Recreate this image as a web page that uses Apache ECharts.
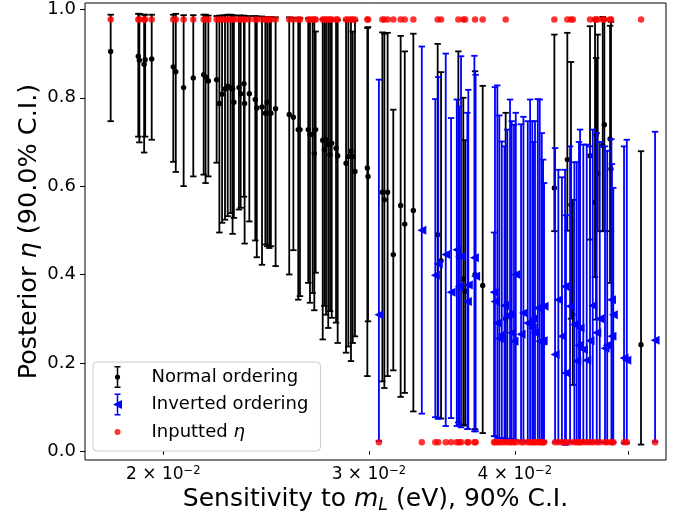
<!DOCTYPE html>
<html><head><meta charset="utf-8">
<script src="https://cdn.jsdelivr.net/npm/echarts@6/dist/echarts.min.js"></script>
<style>html,body{margin:0;padding:0;background:#fff}#c{width:685px;height:515px}</style>
</head><body><div id="c"></div>
<script>
// Normal ordering: sensitivity (eV), posterior eta median, 90% C.I. low / high
const normalX = [0.01803,0.01904,0.01908,0.01926,0.01930,0.01955,0.02040,0.02050,0.02082,0.02122,
0.02166,0.02174,0.02186,0.02222,0.02234,0.02246,0.02259,0.02271,0.02284,0.02293,
0.02299,0.02322,0.02330,0.02345,0.02348,0.02370,0.02398,0.02405,0.02430,0.02446,
0.02455,0.02465,0.02473,0.02496,0.02564,0.02585,0.02610,0.02619,0.02662,0.02671,
0.02685,0.02694,0.02701,0.02739,0.02748,0.02757,0.02769,0.02779,0.02788,0.02812,
0.02821,0.02868,0.02881,0.02896,0.02906,0.02919,0.02991,0.02995,0.03081,0.03093,
0.03113,0.03148,0.03194,0.03220,0.03275,0.03436,0.03459,0.03579,0.03614,0.03627,
0.03699,0.03755,0.03929,0.04325,0.04437,0.04469,0.04485,0.04640,0.04686,0.04696,
0.04711,0.04758,0.04773,0.04827,0.04836,0.05131];
const normalC = [0.905,0.894,0.885,0.876,0.886,0.888,0.870,0.859,0.823,0.845,
0.852,0.847,0.838,0.841,0.787,0.808,0.820,0.826,0.822,0.820,
0.790,0.823,0.809,0.832,0.787,0.809,0.796,0.777,0.779,0.765,
0.790,0.765,0.765,0.775,0.762,0.756,0.728,0.728,0.728,0.717,
0.717,0.674,0.728,0.704,0.683,0.705,0.694,0.671,0.697,0.686,
0.669,0.652,0.667,0.679,0.667,0.633,0.641,0.622,0.586,0.569,
0.586,0.445,0.556,0.514,0.545,0.490,0.431,0.440,0.390,0.362,
0.400,0.375,0.300,0.596,0.660,0.558,0.309,0.669,0.563,0.716,
0.628,0.692,0.739,0.707,0.639,0.241];
const normalLo = [0.747,0.712,0.699,0.676,0.712,0.705,0.655,0.632,0.600,0.622,
0.626,0.607,0.622,0.653,0.495,0.517,0.524,0.532,0.539,0.492,
0.528,0.547,0.551,0.576,0.470,0.520,0.477,0.439,0.422,0.468,
0.464,0.460,0.464,0.419,0.400,0.455,0.343,0.351,0.381,0.336,
0.358,0.319,0.404,0.253,0.329,0.309,0.279,0.317,0.302,0.291,
0.245,0.223,0.237,0.204,0.245,0.260,0.170,0.294,0.158,0.143,
0.170,0.183,0.123,0.132,0.090,0.076,0.074,0.065,0.058,0.060,
0.050,0.041,0.026,0.498,0.499,0.300,0.150,0.479,0.394,0.298,
0.498,0.498,0.498,0.381,0.498,0.015];
const normalHi = [0.988,0.990,0.990,0.988,0.988,0.988,0.988,0.990,0.987,0.987,
0.988,0.988,0.986,0.985,0.986,0.986,0.987,0.988,0.988,0.987,
0.986,0.986,0.986,0.986,0.985,0.985,0.985,0.984,0.984,0.983,
0.983,0.983,0.982,0.982,0.982,0.981,0.981,0.981,0.980,0.980,
0.980,0.979,0.950,0.978,0.978,0.978,0.977,0.977,0.977,0.976,
0.976,0.976,0.975,0.975,0.950,0.975,0.958,0.960,0.948,0.945,
0.947,0.773,0.940,0.905,0.945,0.922,0.858,0.905,0.800,0.704,
0.860,0.827,0.766,0.943,0.947,0.881,0.569,0.962,0.977,0.890,
0.943,0.983,0.977,0.963,0.972,0.679];

// Inverted ordering
const invX = [0.03060,0.03330,0.03420,0.03440,0.03491,0.03528,0.03568,0.03584,0.03598,0.03643,
0.03650,0.03694,0.03703,0.03840,0.03847,0.03865,0.03880,0.03899,0.03920,0.03942,
0.03963,0.03976,0.03994,0.04008,0.04050,0.04069,0.04104,0.04123,0.04141,0.04150,
0.04163,0.04186,0.04202,0.04219,0.04230,0.04238,0.04331,0.04359,0.04390,0.04417,
0.04425,0.04461,0.04499,0.04520,0.04540,0.04550,0.04579,0.04610,0.04640,0.04665,
0.04702,0.04730,0.04779,0.04800,0.04840,0.04845,0.04858,0.04962,0.04989,0.05275];
const invC = [0.309,0.500,0.398,0.424,0.445,0.360,0.456,0.372,0.441,0.339,
0.376,0.438,0.396,0.360,0.339,0.290,0.255,0.264,0.330,0.306,
0.310,0.268,0.249,0.400,0.265,0.313,0.290,0.287,0.279,0.300,
0.268,0.324,0.249,0.249,0.250,0.328,0.219,0.343,0.260,0.373,
0.177,0.328,0.287,0.204,0.240,0.279,0.230,0.206,0.250,0.330,
0.268,0.300,0.233,0.240,0.343,0.260,0.309,0.211,0.206,0.251];
const invLo = [0.023,0.085,0.077,0.073,0.057,0.075,0.057,0.060,0.054,0.050,
0.050,0.045,0.045,0.034,0.034,0.030,0.030,0.030,0.028,0.028,
0.028,0.026,0.026,0.025,0.022,0.022,0.022,0.022,0.022,0.022,
0.022,0.022,0.022,0.022,0.022,0.022,0.020,0.020,0.020,0.015,
0.015,0.020,0.020,0.020,0.020,0.020,0.020,0.020,0.020,0.020,
0.020,0.020,0.020,0.020,0.020,0.020,0.020,0.018,0.018,0.022];
const invHi = [0.841,0.916,0.797,0.847,0.900,0.754,0.796,0.780,0.894,0.766,
0.818,0.895,0.852,0.495,0.824,0.828,0.760,0.701,0.690,0.728,
0.796,0.747,0.739,0.766,0.740,0.757,0.747,0.796,0.747,0.700,
0.747,0.797,0.796,0.720,0.660,0.607,0.686,0.637,0.620,0.637,
0.534,0.690,0.654,0.654,0.700,0.728,0.694,0.694,0.690,0.728,
0.720,0.700,0.690,0.680,0.706,0.650,0.596,0.690,0.705,0.723];

// Inputted eta values
const etaInputNormal = 0.977;
const etaInputInverted = 0.020;

// Axis ticks
const xTickValues = [0.02, 0.03, 0.04, 0.05];
const xLabelValues = [0.02, 0.03, 0.04];
const yTickValues = [0.0, 0.2, 0.4, 0.6, 0.8, 1.0];
const xRange = [0.01714, 0.05390];
const yRange = [-0.0199, 1.0145];

const L = Math.log10;
const normalData = normalX.map((x, i) => [L(x), normalC[i], normalLo[i], normalHi[i]]);
const invData = invX.map((x, i) => [L(x), invC[i], invLo[i], invHi[i]]);
const inputData = normalX.map(x => [L(x), etaInputNormal]).concat(invX.map(x => [L(x), etaInputInverted]));

function errItem(color, marker) {
  return function (params, api) {
    const x = api.value(0);
    const pc = api.coord([x, api.value(1)]);
    const pl = api.coord([x, api.value(2)]);
    const ph = api.coord([x, api.value(3)]);
    const st = {stroke: color, lineWidth: 1.8};
    const ch = [
      {type: 'line', shape: {x1: pl[0], y1: pl[1], x2: ph[0], y2: ph[1]}, style: st},
      {type: 'line', shape: {x1: pl[0] - 3.2, y1: pl[1], x2: pl[0] + 3.2, y2: pl[1]}, style: st},
      {type: 'line', shape: {x1: ph[0] - 3.2, y1: ph[1], x2: ph[0] + 3.2, y2: ph[1]}, style: st}
    ];
    if (marker === 'circle') {
      ch.push({type: 'circle', shape: {cx: pc[0], cy: pc[1], r: 2.7}, style: {fill: color}});
    } else {
      ch.push({type: 'polygon', shape: {points: [[pc[0] - 4.5, pc[1]], [pc[0] + 4.5, pc[1] - 4.5], [pc[0] + 4.5, pc[1] + 4.5]]}, style: {fill: color}});
    }
    return {type: 'group', children: ch};
  };
}

const FONT = 'DejaVu Sans';
const iconNormal = 'path://M0,0H6V1.5H0Z M2.25,0H3.75V22H2.25Z M0,20.5H6V22H0Z M0.4,11A2.6,2.6 0 1,1 5.6,11A2.6,2.6 0 1,1 0.4,11Z';
const iconInv = 'path://M1.5,0H7.5V1.5H1.5Z M3.75,0H5.25V22H3.75Z M1.5,20.5H7.5V22H1.5Z M0,11L9,6.5L9,15.5Z';
const iconDot = 'path://M3,0L3,0Z M3,22L3,22Z M0,11A3,3 0 1,1 6,11A3,3 0 1,1 0,11Z';

const chart = echarts.init(document.getElementById('c'), null, {renderer: 'canvas'});
chart.setOption({
  animation: false,
  backgroundColor: '#fff',
  textStyle: {fontFamily: FONT},
  grid: {left: 85, right: 19, top: 3, bottom: 55, show: true, borderColor: '#000', borderWidth: 1,
    backgroundColor: 'transparent', containLabel: false, outerBoundsMode: 'none'},
  legend: {
    orient: 'vertical', left: 93, top: 362,
    padding: [4, 12, 8, 20], itemGap: 5.5, itemWidth: 24, itemHeight: 22,
    backgroundColor: 'rgba(255,255,255,0.8)', borderColor: '#cccccc', borderWidth: 1, borderRadius: 4,
    selectedMode: false,
    itemStyle: {borderWidth: 0},
    textStyle: {fontSize: 18, fontFamily: FONT, color: '#000', padding: [0, 0, 0, 17],
      rich: {i: {fontSize: 18, fontStyle: 'italic', fontFamily: FONT, color: '#000'}}},
    formatter: function (name) { return name === 'Inputted η' ? 'Inputted {i|η}' : name; },
    data: [
      {name: 'Normal ordering', icon: iconNormal, itemStyle: {color: '#000'}},
      {name: 'Inverted ordering', icon: iconInv, itemStyle: {color: '#0000ff'}},
      {name: 'Inputted η', icon: iconDot, itemStyle: {color: '#ff0000'}}
    ]
  },
  xAxis: {
    type: 'value', min: L(xRange[0]), max: L(xRange[1]),
    splitLine: {show: false}, axisLine: {show: false},
    axisTick: {show: true, length: 3.5, inside: false, customValues: xTickValues.map(L), lineStyle: {color: '#000', width: 1}},
    axisLabel: {
      customValues: xLabelValues.map(L), margin: 5, color: '#000',
      formatter: function (v) { const k = Math.round(Math.pow(10, v) * 100); return '{b|' + k + ' × 10}{s|−2}'; },
      rich: {
        b: {fontSize: 17, fontFamily: FONT, color: '#000', lineHeight: 20},
        s: {fontSize: 11.5, fontFamily: FONT, color: '#000', lineHeight: 12, verticalAlign: 'top'}
      }
    },
    name: '{n|Sensitivity to }{i|m}{s|L}{n| (eV), 90% C.I.}',
    nameLocation: 'middle', nameGap: 24, nameMoveOverlap: false,
    nameTextStyle: {
      rich: {
        n: {fontSize: 25, fontFamily: FONT, color: '#000', lineHeight: 30},
        i: {fontSize: 25, fontFamily: FONT, fontStyle: 'italic', color: '#000', lineHeight: 30},
        s: {fontSize: 17.5, fontFamily: FONT, fontStyle: 'italic', color: '#000', lineHeight: 16, verticalAlign: 'bottom'}
      }
    }
  },
  yAxis: {
    type: 'value', min: yRange[0], max: yRange[1],
    splitLine: {show: false}, axisLine: {show: false},
    axisTick: {show: true, length: 5, inside: false, customValues: yTickValues, lineStyle: {color: '#000', width: 1}},
    axisLabel: {customValues: yTickValues, margin: 9, fontSize: 18, fontFamily: FONT, color: '#000',
      formatter: function (v) { return v.toFixed(1); }},
    name: 'Posterior {i|η} (90.0% C.I.)',
    nameLocation: 'middle', nameGap: 41, nameMoveOverlap: false,
    nameTextStyle: {fontSize: 25.5, fontFamily: FONT, color: '#000', lineHeight: 30,
      rich: {i: {fontSize: 25.5, fontFamily: FONT, fontStyle: 'italic', color: '#000', lineHeight: 30}}}
  },
  series: [
    {name: 'Normal ordering', type: 'custom', renderItem: errItem('#000000', 'circle'),
      itemStyle: {color: '#000'}, encode: {x: 0, y: 1}, data: normalData, z: 2},
    {name: 'Inverted ordering', type: 'custom', renderItem: errItem('#0000ff', 'tri'),
      itemStyle: {color: '#0000ff'}, encode: {x: 0, y: 1}, data: invData, z: 3},
    {name: 'Inputted η', type: 'scatter', symbol: 'circle', symbolSize: 6.5,
      itemStyle: {color: '#ff0000'}, data: inputData, z: 4}
  ]
});
</script>
</body></html>
